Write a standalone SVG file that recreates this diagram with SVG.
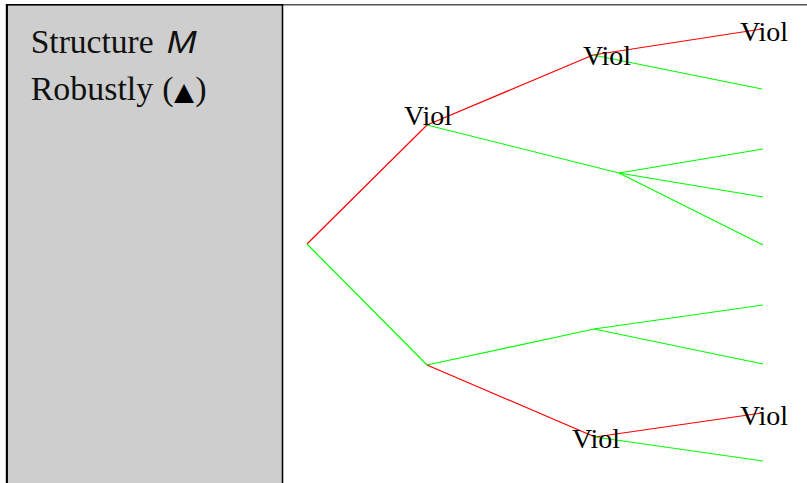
<svg xmlns="http://www.w3.org/2000/svg" width="807" height="483" viewBox="0 0 807 483">
  <style>
    .red { stroke: #ff0000; stroke-width: 1.2; fill: none; }
    .grn { stroke: #00ff00; stroke-width: 1.2; fill: none; }
    .lbl { font-family: "Liberation Serif", "Times New Roman", serif; font-size: 28px; fill: #000; }
    .side { font-family: "Liberation Serif", serif; font-size: 34px; fill: #111; }
  </style>
  <rect width="807" height="483" fill="#ffffff"/>

  <!-- frame -->
  <g id="frame">
    <line x1="282" y1="4.8" x2="807" y2="4.8" stroke="#555" stroke-width="1.6"/>
    <rect id="side-panel" x="7" y="4.8" width="275.5" height="490" fill="#cecece" stroke="#000" stroke-width="1.6"/>
    <line x1="6.8" y1="4" x2="6.8" y2="483" stroke="#000" stroke-width="2"/>
  </g>

  <g id="side-text">
    <text class="side" y="53"><tspan x="30.7" textLength="123" lengthAdjust="spacingAndGlyphs">Structure</tspan><tspan x="166.7" font-family="Liberation Sans, sans-serif" font-style="italic" font-size="32" textLength="30" lengthAdjust="spacingAndGlyphs">M</tspan></text>
    <text class="side" y="100"><tspan x="30.7" textLength="122.5" lengthAdjust="spacingAndGlyphs">Robustly</tspan><tspan x="162.3">(</tspan><tspan x="174" font-family="DejaVu Sans, sans-serif" font-size="25" textLength="20" lengthAdjust="spacingAndGlyphs" fill="#000">▲</tspan><tspan x="195.2">)</tspan></text>
  </g>

  <!-- connectors -->
  <g id="edges">
    <line class="red" x1="307" y1="244" x2="427" y2="125"/>
    <line class="grn" x1="307" y1="244" x2="427" y2="365"/>
    <line class="red" x1="427" y1="125" x2="593" y2="55"/>
    <line class="grn" x1="427" y1="125" x2="619" y2="173"/>
    <line class="red" x1="593" y1="55" x2="762" y2="29"/>
    <line class="grn" x1="593" y1="55" x2="762" y2="89"/>
    <line class="grn" x1="619" y1="173" x2="763" y2="149"/>
    <line class="grn" x1="619" y1="173" x2="763" y2="197"/>
    <line class="grn" x1="619" y1="173" x2="763" y2="245"/>
    <line class="grn" x1="427" y1="365" x2="594" y2="329"/>
    <line class="red" x1="427" y1="365" x2="595" y2="437"/>
    <line class="grn" x1="594" y1="329" x2="763" y2="305"/>
    <line class="grn" x1="594" y1="329" x2="763" y2="364"/>
    <line class="red" x1="595" y1="437" x2="762" y2="413"/>
    <line class="grn" x1="595" y1="437" x2="763" y2="461"/>
  </g>

  <!-- node labels -->
  <g id="n-a"><text class="lbl" x="404" y="125">Viol</text></g>
  <g id="n-a1"><text class="lbl" x="583" y="65">Viol</text></g>
  <g id="n-a1a"><text class="lbl" x="740" y="41">Viol</text></g>
  <g id="n-b2"><text class="lbl" x="572" y="448">Viol</text></g>
  <g id="n-b2a"><text class="lbl" x="740" y="425">Viol</text></g>
</svg>
